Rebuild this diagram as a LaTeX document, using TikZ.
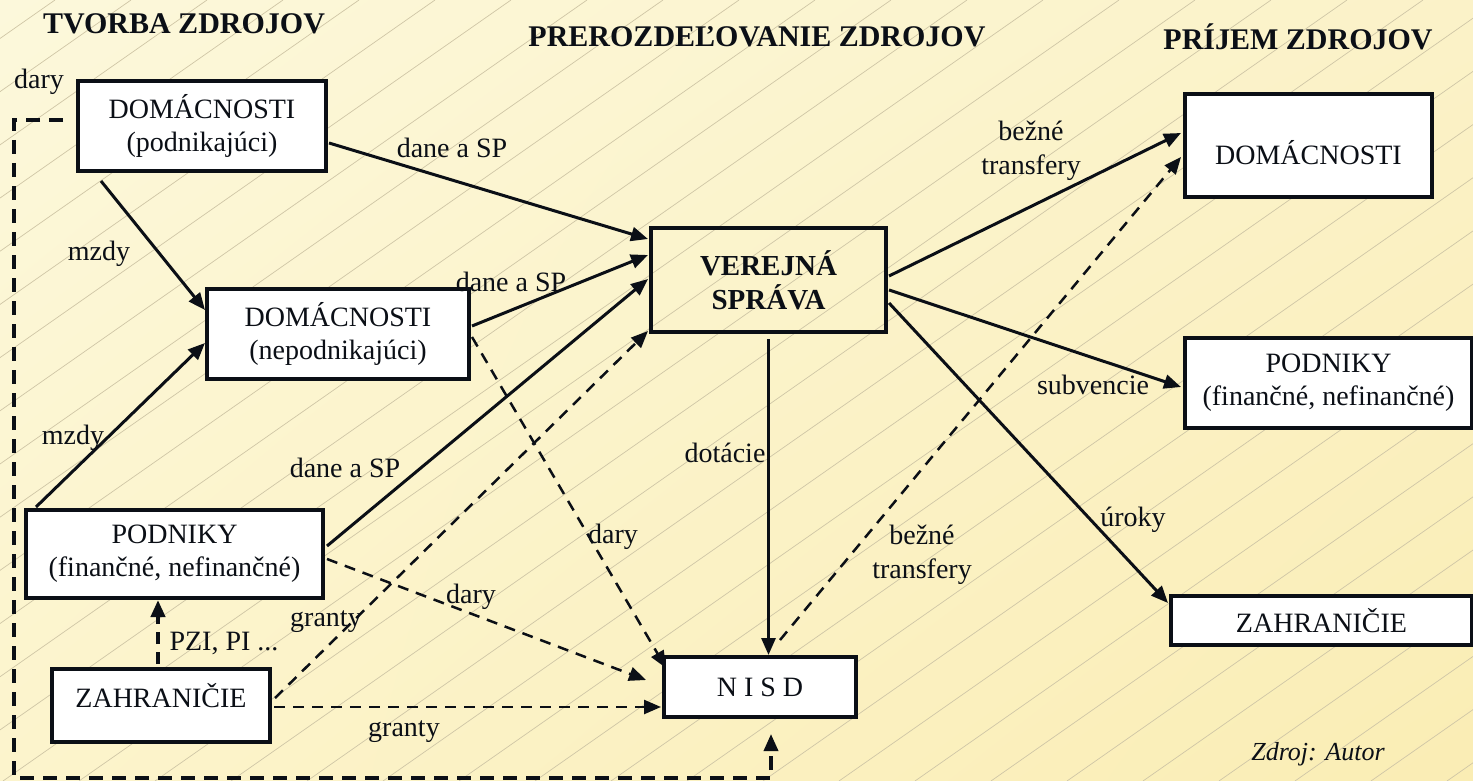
\documentclass[tikz,border=0pt]{standalone}
\usepackage{fontspec}
\setmainfont{Liberation Serif}
\usetikzlibrary{arrows.meta,shadings}
\pgfdeclarelayer{bg}
\pgfdeclarelayer{edges}
\pgfsetlayers{bg,edges,main}
\definecolor{bgTL}{HTML}{FCF8DB}
\definecolor{bgTR}{HTML}{FBF2C8}
\definecolor{bgBL}{HTML}{FCF4CC}
\definecolor{bgBR}{HTML}{FAEDB4}
\definecolor{hatch}{HTML}{CFC6A6}
\definecolor{ink}{HTML}{0B0F16}
\begin{document}
\begin{tikzpicture}[x=0.5pt,y=-0.5pt,
  box/.style={draw=ink, line width=2pt, fill=white, inner sep=0pt, align=center, text=ink,
              font=\fontsize{14}{16.5}\selectfont},
  lbl/.style={inner sep=0pt, align=center, text=ink, font=\fontsize{14}{17}\selectfont},
  ttl/.style={inner sep=0pt, text=ink, font=\fontsize{15}{18}\selectfont\bfseries},
  tipstyle/.style={-{Triangle[length=8.5pt,width=7pt]}},
  arr/.style={draw=ink, line width=1.5pt, tipstyle},
  darr/.style={draw=ink, line width=1.25pt, dash pattern=on 5.5pt off 4pt, tipstyle},
  loopline/.style={draw=ink, line width=1.75pt, dash pattern=on 7pt off 4.5pt, tipstyle},
  fdiline/.style={draw=ink, line width=2pt, dash pattern=on 6pt off 4pt, tipstyle}
]
\useasboundingbox (0,0) rectangle (1473,781);

% background
\begin{pgfonlayer}{bg}
  \shade[upper left=bgTL, upper right=bgTR, lower left=bgBL, lower right=bgBR]
    (0,0) rectangle (1473,781);
  \begin{scope}
    \clip (0,0) rectangle (1473,781);
    \foreach \n in {0,...,34}{
      \draw[hatch, line width=0.35pt] ({55+76*\n},0) -- ({55+76*\n-1116},781);
    }
  \end{scope}
\end{pgfonlayer}

% titles
\node[ttl] (t1) at (184,24) {TVORBA ZDROJOV};
\node[ttl] (t2) at (757,37) {PREROZDEĽOVANIE ZDROJOV};
\node[ttl] (t3) at (1298,37) {PRÍJEM ZDROJOV};

% boxes
\node[box, minimum width=124pt, minimum height=45pt] (dp) at (202,126)
  {DOMÁCNOSTI\\(podnikajúci)};
\node[box, minimum width=131pt, minimum height=45pt] (dn) at (338,334)
  {DOMÁCNOSTI\\(nepodnikajúci)};
\node[box, minimum width=148.5pt, minimum height=44pt] (pl) at (174.5,554)
  {PODNIKY\\(finančné, nefinančné)};
\node[box, minimum width=109pt, minimum height=36.5pt, text height=10pt, text depth=8.5pt] (zl) at (161,705.5)
  {ZAHRANIČIE};
\node[box, fill=none, minimum width=117.5pt, minimum height=52pt,
      font=\fontsize{14.5}{17}\selectfont\bfseries] (vs) at (768.5,280)
  {VEREJNÁ\\SPRÁVA};
\node[box, minimum width=96pt, minimum height=30pt] (nisd) at (760,687)
  {N I S D};
\node[box, minimum width=123.5pt, minimum height=51.5pt, text height=19pt, text depth=0pt] (dr) at (1308.5,145.5)
  {DOMÁCNOSTI};
\node[box, minimum width=143.5pt, minimum height=45pt] (pr) at (1328.5,383)
  {PODNIKY\\(finančné, nefinančné)};
\node[box, minimum width=150.5pt, minimum height=24.5pt] (zr) at (1321.5,620.5)
  {ZAHRANIČIE};

\coordinate (loopA) at (14,778);

% connectors
\begin{pgfonlayer}{edges}
  \draw[arr] ([shift={(1,17)}]dp.east) -- ([shift={(-1,-41)}]vs.west);
  \draw[arr] ([shift={(25,8)}]dp.south west) -- ([shift={(0,-24)}]dn.west);
  \draw[arr] ([shift={(12,-1)}]pl.north west) -- ([shift={(0,9)}]dn.west);
  \draw[arr] ([shift={(1,-8)}]dn.east) -- ([shift={(-1,-25)}]vs.west);
  \draw[arr] ([shift={(2,-8)}]pl.east) -- ([shift={(-1,-1)}]vs.west);
  \draw[darr] ([shift={(3,-7.5)}]zl.east) -- ([shift={(-1,-3)}]vs.south west);
  \draw[darr] ([shift={(2,5)}]pl.east) -- ([shift={(-16,-7)}]nisd.west);
  \draw[darr] ([shift={(1,3)}]dn.east) -- ([shift={(4,13)}]nisd.north west);
  \draw[darr] ([shift={(2,1.5)}]zl.east) -- ([shift={(-1,20)}]nisd.west);
  \draw[fdiline] ([shift={(-3,-3)}]zl.north) -- ([shift={(-16.5,0)}]pl.south);
  \draw[arr] ([shift={(0,5)}]vs.south) -- ([shift={(8.5,0)}]nisd.north);
  \draw[arr] ([shift={(1,-4)}]vs.east) -- ([shift={(-2,-12.5)}]dr.west);
  \draw[arr] ([shift={(1,10)}]vs.east) -- ([shift={(-2,4)}]pr.west);
  \draw[arr] ([shift={(1,23)}]vs.east) -- ([shift={(-1,-17.5)}]zr.west);
  \draw[darr] ([shift={(20,-15)}]nisd.north) -- ([shift={(-2,11.5)}]dr.west);
  \draw[loopline] ([shift={(-13,-6)}]dp.west) -| (loopA) -| ([shift={(11,15)}]nisd.south);
\end{pgfonlayer}

% labels
\node[lbl] (l1) at (39,82) {dary};
\node[lbl] (l2) at (452,148) {dane a SP};
\node[lbl] (l3) at (99,254) {mzdy};
\node[lbl] (l4) at (511,282) {dane a SP};
\node[lbl] (l5) at (73,438) {mzdy};
\node[lbl] (l6) at (345,468) {dane a SP};
\node[lbl] (l7) at (326,622) {granty};
\node[lbl] (l8) at (224,643) {PZI, PI ...};
\node[lbl] (l9) at (471,597) {dary};
\node[lbl] (l10) at (404,732) {granty};
\node[lbl] (l11) at (613,537) {dary};
\node[lbl] (l12) at (725,453) {dotácie};
\node[lbl] (l13) at (922,555) {bežné\\transfery};
\node[lbl] (l14) at (1031,151) {bežné\\transfery};
\node[lbl] (l15) at (1093,385) {subvencie};
\node[lbl] (l16) at (1133,520) {úroky};
\node[lbl, font=\fontsize{13}{15}\selectfont\itshape] (l17) at (1318,754) {Zdroj: Autor};
\end{tikzpicture}
\end{document}
